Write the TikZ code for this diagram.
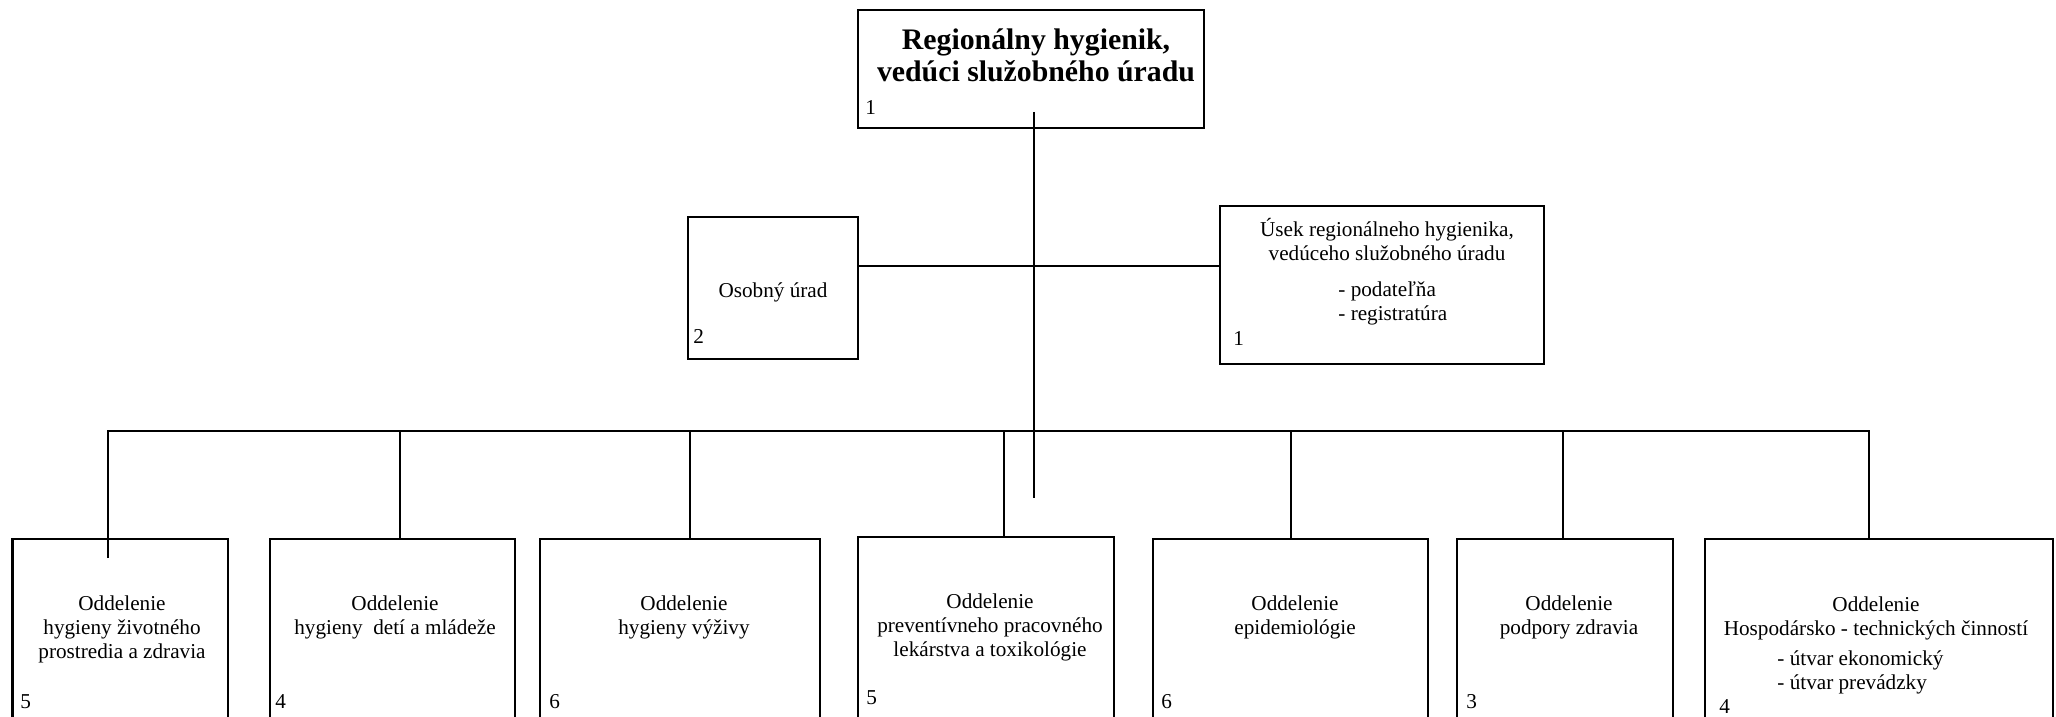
\documentclass[tikz,border=0pt]{standalone}
\usepackage{fontspec}
\setmainfont{Liberation Serif}
\newcommand\mkbox[5]{\node[box,minimum width=#4*0.5pt,minimum height=#5*0.5pt] (#1) at (#2,#3) {};}
\begin{document}
\begin{tikzpicture}[x=0.5pt,y=-0.5pt,
  box/.style={draw, line width=1.1pt, inner sep=0pt, outer sep=0pt},
  ln/.style={line width=1.1pt},
  txt/.style={font=\fontsize{10.6}{12}\selectfont, align=center, inner sep=0pt, anchor=base},
  lst/.style={font=\fontsize{10.6}{12}\selectfont, align=left, inner sep=0pt, anchor=base west},
  num/.style={font=\fontsize{10.6}{12}\selectfont, inner sep=0pt, anchor=base west},
  ttl/.style={font=\fontsize{14.9}{16}\selectfont\bfseries, align=center, inner sep=0pt, anchor=base}]
\clip (0,0) rectangle (2056,717);
\fill[white] (0,0) rectangle (2056,717);

% boxes
\mkbox{top}{1031}{69}{346}{118}
\mkbox{osob}{773}{288}{170}{142}
\mkbox{usek}{1382}{285}{324}{158}
\mkbox{b1}{120.25}{659.5}{215.5}{241}
\mkbox{b2}{392.5}{659.5}{245}{241}
\mkbox{b3}{680}{659.5}{280}{241}
\mkbox{b4}{986}{658.5}{256}{243}
\mkbox{b5}{1290.5}{659.5}{275}{241}
\mkbox{b6}{1565}{659.5}{216}{241}
\mkbox{b7}{1879}{659.5}{348}{241}

% texts (base anchor = baseline of the last line)
\node[ttl] (tt) at (1036,82) {Regionálny hygienik,\\vedúci služobného úradu};
\node[num] (n0) at (865,115) {1};
\node[txt] (ot) at (773,297) {Osobný úrad};
\node[num] (n1) at (693,343) {2};
\node[txt] (ut) at (1387,260) {Úsek regionálneho hygienika,\\vedúceho služobného úradu};
\node[lst] (ul) at (1338,320) {- podateľňa\\- registratúra};
\node[num] (n2) at (1233,345) {1};

\node[txt] (t1) at (122,658) {Oddelenie\\hygieny životného\\prostredia a zdravia};
\node[txt] (t2) at (395,634) {Oddelenie\\hygieny\ \ detí a mládeže};
\node[txt] (t3) at (684,634) {Oddelenie\\hygieny výživy};
\node[txt] (t4) at (990,656) {Oddelenie\\preventívneho pracovného\\lekárstva a toxikológie};
\node[txt] (t5) at (1295,634) {Oddelenie\\epidemiológie};
\node[txt] (t6) at (1569,634) {Oddelenie\\podpory zdravia};
\node[txt] (t7) at (1876,635) {Oddelenie\\Hospodársko - technických činností};
\node[lst] (l7) at (1777,689) {- útvar ekonomický\\- útvar prevádzky};

\node[num] (m1) at (20,708) {5};
\node[num] (m2) at (275,708) {4};
\node[num] (m3) at (549,708) {6};
\node[num] (m4) at (866,704) {5};
\node[num] (m5) at (1161,708) {6};
\node[num] (m6) at (1466,708) {3};
\node[num] (m7) at (1719,713) {4};

% connectors
\coordinate (t0) at (1034,112);
\coordinate (tend) at (1034,498);
\draw[ln] (t0) -- (tend);
\coordinate (hl) at (1034,266);
\draw[ln] (osob.east |- hl) -- (usek.west |- hl);
\coordinate (d1) at (108,431);
\coordinate (d2) at (400,431);
\coordinate (d3) at (690,431);
\coordinate (d4) at (1004,431);
\coordinate (d5) at (1291,431);
\coordinate (d6) at (1563,431);
\coordinate (d7) at (1869,431);
\coordinate (e1) at (108,558);
\draw[ln] (e1) -- (d1) -- (d7) -- (d7 |- b7.north);
\draw[ln] (d2) -- (d2 |- b2.north);
\draw[ln] (d3) -- (d3 |- b3.north);
\draw[ln] (d4) -- (d4 |- b4.north);
\draw[ln] (d5) -- (d5 |- b5.north);
\draw[ln] (d6) -- (d6 |- b6.north);
\end{tikzpicture}
\end{document}
